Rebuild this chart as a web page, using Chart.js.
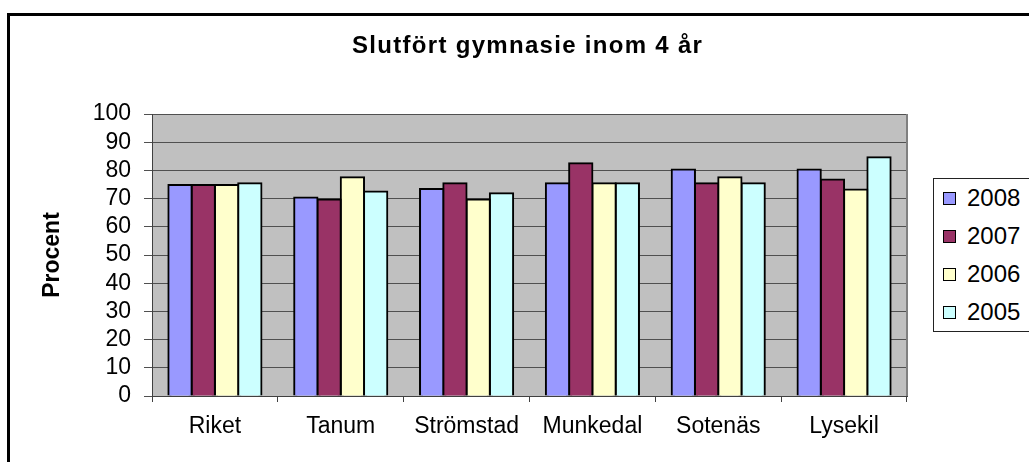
<!DOCTYPE html>
<html>
<head>
<meta charset="utf-8">
<script src="https://cdn.jsdelivr.net/npm/chart.js@4"></script>
<style>
  body { margin: 0; background: #fff; }
  #wrap { position: relative; width: 1029px; height: 462px; overflow: hidden; font-family: "Liberation Sans", Arial, sans-serif; }
  #frame { position: absolute; left: 7px; top: 13px; width: 1100px; height: 520px; border: 3px solid #000; pointer-events: none; }
  #title { position: absolute; left: 352px; top: 31px; line-height: 28px; font-size: 24px; font-weight: bold; letter-spacing: 1.3px; white-space: nowrap; }
  #legend { position: absolute; left: 933px; top: 178px; width: 120px; height: 152px; border: 1px solid #222; background: #fff; }
  .item { height: 38px; display: flex; align-items: center; font-size: 24px; }
  .sw { width: 11px; height: 11px; border: 1px solid #000; margin-left: 9px; margin-right: 11px; }
</style>
</head>
<body>
<div id="wrap">
  <canvas id="chart" width="1029" height="462"></canvas>
  <div id="title"></div>
  <div id="legend"></div>
  <div id="frame"></div>
</div>
<script>
let titleText = 'Slutfört gymnasie inom 4 år';
let yTitle = 'Procent';
let categories = ['Riket', 'Tanum', 'Strömstad', 'Munkedal', 'Sotenäs', 'Lysekil'];
let years = ['2008', '2007', '2006', '2005'];
let colors = ['#9999ff', '#993366', '#ffffcc', '#ccffff'];

let v2008 = [74.8, 70.4, 73.4, 75.4, 80.3, 80.3];
let v2007 = [74.8, 69.7, 75.4, 82.5, 75.4, 76.8];
let v2006 = [74.8, 77.6, 69.7, 75.4, 77.6, 73.2];
let v2005 = [75.4, 72.5, 71.9, 75.4, 75.4, 84.7];
let series = [v2008, v2007, v2006, v2005];

let yMin = 0, yMax = 100, yStep = 10;

document.getElementById('title').textContent = titleText;

// legend as html, built from the same arrays
let legend = document.getElementById('legend');
for (let i in years) {
    let row = document.createElement('div');
    row.className = 'item';
    let sw = document.createElement('span');
    sw.className = 'sw';
    sw.style.background = colors[i];
    let txt = document.createElement('span');
    txt.textContent = years[i];
    row.appendChild(sw);
    row.appendChild(txt);
    legend.appendChild(row);
}

Chart.defaults.font.family = '"Liberation Sans", Arial, sans-serif';
Chart.defaults.color = '#000';

let plotBg = {
    id: 'plotBg',
    beforeDraw(chart) {
        let a = chart.chartArea;
        let ctx = chart.ctx;
        ctx.save();
        ctx.fillStyle = '#c0c0c0';
        ctx.fillRect(a.left, a.top, a.right - a.left, a.bottom - a.top);
        ctx.restore();
    },
    beforeDatasetsDraw(chart) {
        let a = chart.chartArea;
        let ctx = chart.ctx;
        ctx.save();
        ctx.strokeStyle = '#808080';
        ctx.lineWidth = 2;
        ctx.beginPath();
        ctx.moveTo(a.right, a.top);
        ctx.lineTo(a.right, a.bottom);
        ctx.stroke();
        ctx.restore();
    }
};

let datasets = [];
for (let i in years) {
    datasets.push({
        label: years[i],
        data: series[i],
        backgroundColor: colors[i],
        borderColor: '#000',
        borderWidth: 2,
        inflateAmount: 1,
        categoryPercentage: 0.74,
        barPercentage: 1.0
    });
}

let chart = new Chart(document.getElementById('chart'), {
    type: 'bar',
    data: { labels: categories, datasets: datasets },
    options: {
        responsive: false,
        animation: false,
        layout: { padding: { left: 0, right: 122, top: 114, bottom: 0 } },
        plugins: {
            legend: { display: false },
            title: { display: false },
            tooltip: { enabled: false }
        },
        scales: {
            x: {
                grid: { offset: true, drawOnChartArea: false, tickLength: 6, color: '#404040' },
                border: { color: '#404040', width: 1 },
                ticks: { font: { size: 23 }, padding: 11, color: '#000', autoSkip: false, maxRotation: 0 },
                afterFit(scale) { scale.height = 66; }
            },
            y: {
                min: yMin,
                max: yMax,
                ticks: { stepSize: yStep, autoSkip: false, font: { size: 23 }, padding: 13, color: '#000' },
                grid: { color: '#505050', tickLength: 8, tickColor: '#505050' },
                border: { color: '#404040', width: 1 },
                title: { display: true, text: yTitle, font: { size: 23, weight: 'bold' }, padding: { top: 39, bottom: 0 } },
                afterFit(scale) { scale.width = 152; }
            }
        }
    },
    plugins: [plotBg]
});
</script>
</body>
</html>
